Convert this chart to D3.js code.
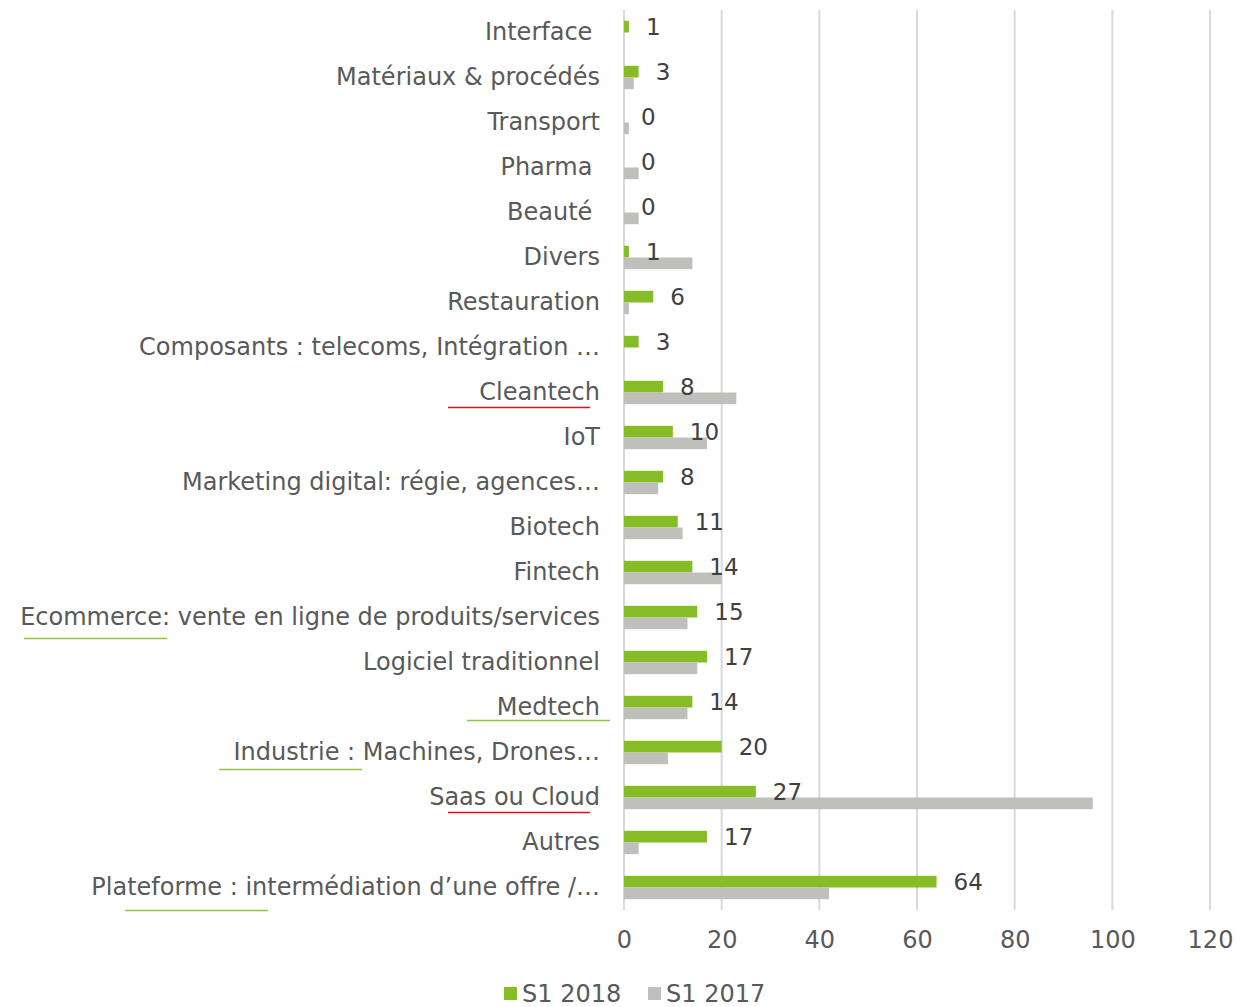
<!DOCTYPE html>
<html>
<head>
<meta charset="utf-8">
<script src="https://cdn.jsdelivr.net/npm/d3@7"></script>
<style>
  body { margin: 0; background: #fff; }
  text { font-family: "DejaVu Sans", Verdana, sans-serif; }
</style>
</head>
<body>
<script>
// categories, top to bottom
const categories = [
  "Interface ", "Matériaux & procédés", "Transport", "Pharma ", "Beauté ",
  "Divers", "Restauration", "Composants : telecoms, Intégration …", "Cleantech", "IoT",
  "Marketing digital: régie, agences…", "Biotech", "Fintech",
  "Ecommerce: vente en ligne de produits/services", "Logiciel traditionnel", "Medtech",
  "Industrie : Machines, Drones…", "Saas ou Cloud", "Autres",
  "Plateforme : intermédiation d’une offre /…"
];
const s2018 = [1, 3, 0, 0, 0, 1, 6, 3, 8, 10, 8, 11, 14, 15, 17, 14, 20, 27, 17, 64];
const s2017 = [0, 2, 1, 3, 3, 14, 1, 0, 23, 17, 7, 12, 20, 13, 15, 13, 9, 96, 3, 42];
const seriesNames = ["S1 2018", "S1 2017"];
const xTicks = [0, 20, 40, 60, 80, 100, 120];

// proofing underlines seen under some labels: [category, x0, x1, dy below label centre, colour]
const marks = [
  ["Cleantech", 448, 590, 15, "#e0101a"],
  ["Ecommerce: vente en ligne de produits/services", 24, 167, 21, "#8dc63f"],
  ["Medtech", 467, 610, 13, "#8dc63f"],
  ["Industrie : Machines, Drones…", 219, 362, 17, "#8dc63f"],
  ["Saas ou Cloud", 448, 590, 15, "#e0101a"],
  ["Plateforme : intermédiation d’une offre /…", 125, 268, 23, "#8dc63f"]
];

const colors = ["#86bc25", "#bfbfbb"];
const textColor = "#595959";

const margin = { top: 10, right: 26, bottom: 97, left: 624 };
const W = 1236, H = 1007;
const width = W - margin.left - margin.right;
const height = H - margin.top - margin.bottom;

const svg = d3.select("body").append("svg")
  .attr("width", W)
  .attr("height", H);

const g = svg.append("g")
  .attr("transform", "translate(" + margin.left + "," + margin.top + ")");

const x = d3.scaleLinear().domain([0, 120]).range([0, width]);
const y = d3.scaleBand().domain(categories).range([0, height]).paddingInner(0.48).paddingOuter(0.24);
const inner = d3.scaleBand().domain([0, 1]).range([0, y.bandwidth()]);

// gridlines
g.selectAll(".grid").data(xTicks).enter().append("line")
  .attr("x1", d => x(d)).attr("x2", d => x(d))
  .attr("y1", 0).attr("y2", height)
  .attr("stroke", "#d9d9d9").attr("stroke-width", 2);

// x axis labels
const xAxis = d3.axisBottom(x).tickValues(xTicks).tickSize(0).tickPadding(21);
const xa = g.append("g").attr("transform", "translate(0," + height + ")").call(xAxis);
xa.select(".domain").remove();
xa.selectAll("text").attr("fill", textColor).style("font-size", "24px");

// y axis labels
const yAxis = d3.axisLeft(y).tickSize(0).tickPadding(24);
const ya = g.append("g").call(yAxis);
ya.select(".domain").remove();
ya.selectAll("text")
  .attr("fill", textColor)
  .style("font-size", "24px")
  .style("white-space", "pre");

// bars
[s2018, s2017].forEach(function(vals, si) {
  g.selectAll(".bar" + si).data(categories).enter().append("rect")
    .attr("x", x(0))
    .attr("y", (d, i) => y(d) + inner(si))
    .attr("width", (d, i) => x(vals[i]) - x(0))
    .attr("height", inner.bandwidth())
    .attr("fill", colors[si]);
});

// data labels for S1 2018
g.selectAll(".lbl").data(categories).enter().append("text")
  .attr("x", (d, i) => x(s2018[i]) + 17)
  .attr("y", (d, i) => y(d) + inner(0) + inner.bandwidth() / 2)
  .attr("dy", "0.35em")
  .attr("fill", "#404040")
  .style("font-size", "23px")
  .text((d, i) => s2018[i]);

// underline marks
const centre = d => margin.top + y(d) + y.bandwidth() / 2;
svg.selectAll(".mark").data(marks).enter().append("line")
  .attr("x1", d => d[1]).attr("x2", d => d[2])
  .attr("y1", d => centre(d[0]) + d[3])
  .attr("y2", d => centre(d[0]) + d[3])
  .attr("stroke", d => d[4]).attr("stroke-width", 1.5);

// legend
const legend = svg.append("g").attr("transform", "translate(504,994)");
const items = legend.selectAll(".item").data(seriesNames).enter().append("g")
  .attr("transform", (d, i) => "translate(" + (i * 144) + ",0)");
items.append("rect")
  .attr("x", 0).attr("y", -7).attr("width", 13).attr("height", 13)
  .attr("fill", (d, i) => colors[i]);
items.append("text")
  .attr("x", 18).attr("y", 0).attr("dy", "0.35em")
  .attr("fill", textColor)
  .style("font-size", "24px")
  .text(d => d);
</script>
</body>
</html>
